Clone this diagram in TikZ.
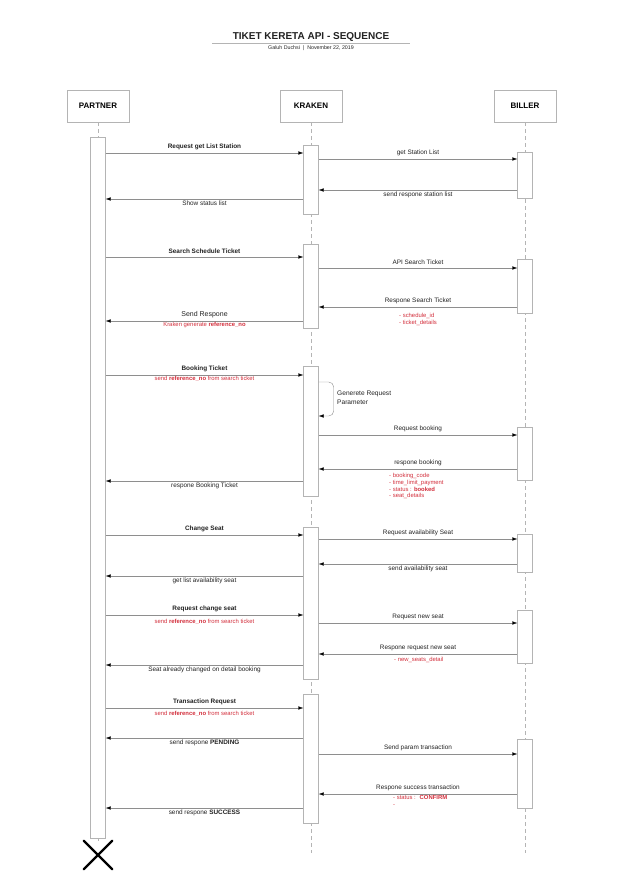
\documentclass[tikz,border=0pt]{standalone}
\usepackage{fontspec}
\setmainfont{Liberation Sans}
\usepackage{tikz}
\usetikzlibrary{calc,arrows.meta}
\usetikzlibrary{shapes.misc}
\definecolor{sq-line}{HTML}{8E8E8E}
\definecolor{sq-box}{HTML}{B4B4B4}
\definecolor{sq-note}{HTML}{D22F3C}
\definecolor{sq-text}{HTML}{222222}

\begin{document}
\begin{tikzpicture}[x=1pt, y=-1pt,
    actor/.style={draw=sq-box, minimum width=62pt, minimum height=32pt, font=\fontsize{8}{9}\selectfont\bfseries},
    act/.style={draw=sq-box, fill=white, minimum width=15pt, inner sep=0pt, anchor=north},
    life/.style={draw=sq-box, dash pattern=on 4pt off 3pt},
    msg/.style={draw=sq-line, -{Latex[length=5pt, width=3.5pt, color=black]}},
    lbl/.style={font=\fontsize{6.4}{7.5}\selectfont, text=sq-text, inner sep=1pt},
    note/.style={font=\fontsize{5.9}{6.8}\selectfont, text=sq-note, inner sep=0pt, align=left}]

    \useasboundingbox (0,0) rectangle (620,894);

    % Title
    \node[font=\fontsize{10}{12}\selectfont\bfseries, text=sq-text] (title) at (311,37) {TIKET KERETA API - SEQUENCE};
    \draw[sq-box] (212,43.5) -- (410,43.5);
    \node[font=\fontsize{5.3}{6}\selectfont, text=sq-text] (sub) at (311,48.5) {Galuh Duchsi ~|~ November 22, 2019};

    % Actors and lifelines
    \foreach \n/\x/\t in {partner/98/PARTNER, kraken/311/KRAKEN, biller/525/BILLER} {
        \node[actor] (\n) at (\x,106) {\t};
    }
    \coordinate (kend) at (311,853);
    \coordinate (bend) at (525,853);
    \draw[life] (kraken.south) -- (kend);
    \draw[life] (biller.south) -- (bend);

    \node[act, minimum height=701pt] (pbar) at (98,137) {};
    \node[cross out, draw=black, line width=2.4pt, line cap=round, minimum size=26pt, inner sep=0pt] (pend) at (98,855) {};
    \draw[life] (partner.south) -- (pbar.north);
    \draw[life] (pbar.south) -- (pend.north);

    % Activation bars
    \foreach \n/\x/\t/\h in {k1/311/145/69, b1/525/152/46, k2/311/244/84, b2/525/259/54,
                             k3/311/366/130, b3/525/427/53, k4/311/527/152, b4/525/534/38,
                             b5/525/610/53, k5/311/694/129, b6/525/739/69} {
        \node[act, minimum height=\h pt] (\n) at (\x,\t) {};
    }

    % Station list
    \draw[msg] (pbar.east |- 0,153) -- node[lbl, above=2pt] {\textbf{Request get List Station}} (k1.west |- 0,153);
    \draw[msg] (k1.east |- 0,159) -- node[lbl, above=2pt] {get Station List} (b1.west |- 0,159);
    \draw[msg] (b1.west |- 0,190) -- node[lbl, below=1pt] {send respone station list} (k1.east |- 0,190);
    \draw[msg] (k1.west |- 0,199) -- node[lbl, below=1pt] {Show status list} (pbar.east |- 0,199);

    % Search schedule
    \draw[msg] (pbar.east |- 0,257) -- node[lbl, above=2pt] {\textbf{Search Schedule Ticket}} (k2.west |- 0,257);
    \draw[msg] (k2.east |- 0,268) -- node[lbl, above=2pt] {API Search Ticket} (b2.west |- 0,268);
    \draw[msg] (b2.west |- 0,307) -- node[lbl, above=2pt] {Respone Search Ticket} (k2.east |- 0,307);
    \node[note, anchor=north west] (n1) at (399,313) {- schedule\_id\\- ticket\_details};
    \draw[msg] (k2.west |- 0,321) -- node[lbl, above=2pt, font=\fontsize{7}{8}\selectfont] {Send Respone}
        node[note, below=1pt] {Kraken generate \textbf{reference\_no}} (pbar.east |- 0,321);

    % Booking
    \draw[msg] (pbar.east |- 0,375) -- node[lbl, above=2pt] {\textbf{Booking Ticket}}
        node[note, below=1pt] {send \textbf{reference\_no} from search ticket} (k3.west |- 0,375);
    \draw[msg, rounded corners=5pt] (k3.east |- 0,382) -- ++(15,0) -- ++(0,34) -- (k3.east |- 0,416);
    \node[lbl, anchor=west, align=left, font=\fontsize{6.6}{9}\selectfont] (gen) at (336,397.5) {Generete Request\\Parameter};
    \draw[msg] (k3.east |- 0,435) -- node[lbl, above=2pt] {Request booking} (b3.west |- 0,435);
    \draw[msg] (b3.west |- 0,469) -- node[lbl, above=2pt] {respone booking} (k3.east |- 0,469);
    \node[note, anchor=north west] (n2) at (389,473) {- booking\_code\\- time\_limit\_payment\\- status : \textbf{booked}\\- seat\_details};
    \draw[msg] (k3.west |- 0,481) -- node[lbl, below=1pt] {respone Booking Ticket} (pbar.east |- 0,481);

    % Change seat
    \draw[msg] (pbar.east |- 0,535) -- node[lbl, above=2pt] {\textbf{Change Seat}} (k4.west |- 0,535);
    \draw[msg] (k4.east |- 0,539) -- node[lbl, above=2pt] {Request availability Seat} (b4.west |- 0,539);
    \draw[msg] (b4.west |- 0,564) -- node[lbl, below=1pt] {send availability seat} (k4.east |- 0,564);
    \draw[msg] (k4.west |- 0,576) -- node[lbl, below=1pt] {get list availability seat} (pbar.east |- 0,576);

    \draw[msg] (pbar.east |- 0,615) -- node[lbl, above=2pt] {\textbf{Request change seat}}
        node[note, below=4pt] {send \textbf{reference\_no} from search ticket} (k4.west |- 0,615);
    \draw[msg] (k4.east |- 0,623) -- node[lbl, above=2pt] {Request new seat} (b5.west |- 0,623);
    \draw[msg] (b5.west |- 0,654) -- node[lbl, above=2pt] {Respone request new seat} (k4.east |- 0,654);
    \node[note, anchor=north west] (n3) at (394,657.5) {- new\_seats\_detail};
    \draw[msg] (k4.west |- 0,665) -- node[lbl, below=1pt] {Seat already changed on detail booking} (pbar.east |- 0,665);

    % Transaction
    \draw[msg] (pbar.east |- 0,708) -- node[lbl, above=2pt] {\textbf{Transaction Request}}
        node[note, below=3pt] {send \textbf{reference\_no} from search ticket} (k5.west |- 0,708);
    \draw[msg] (k5.west |- 0,738) -- node[lbl, below=1pt] {send respone \textbf{PENDING}} (pbar.east |- 0,738);
    \draw[msg] (k5.east |- 0,754) -- node[lbl, above=2pt] {Send param transaction} (b6.west |- 0,754);
    \draw[msg] (b6.west |- 0,794) -- node[lbl, above=2pt] {Respone success transaction} (k5.east |- 0,794);
    \node[note, anchor=north west] (n4) at (393,795) {- status : ~\textbf{CONFIRM}\\-};
    \draw[msg] (k5.west |- 0,808) -- node[lbl, below=1pt] {send respone \textbf{SUCCESS}} (pbar.east |- 0,808);
\end{tikzpicture}
\end{document}
